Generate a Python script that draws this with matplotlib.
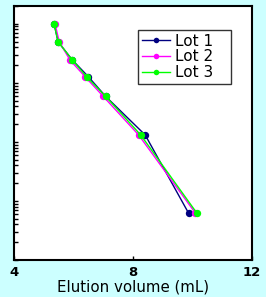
import matplotlib
matplotlib.use("Agg")
import matplotlib.pyplot as plt
import matplotlib.ticker as mticker

# Elution volume (mL) and molecular weight for each lot
lot1_x = [5.35, 5.48, 5.96, 6.50, 7.08, 8.41, 9.87]
lot2_x = [5.38, 5.52, 5.88, 6.39, 7.00, 8.19, 10.10]
lot3_x = [5.35, 5.48, 5.96, 6.44, 7.08, 8.26, 10.15]
mw = [990000, 498000, 244000, 127000, 59000, 13100, 620]

labels = ['Lot 1', 'Lot 2', 'Lot 3']
colors = ['#000080', '#FF00FF', '#00FF00']
xticks = [4, 8, 12]

bg = '#CCFFFF'

fig = plt.figure(figsize=(2.66, 2.97), dpi=100, facecolor=bg)
ax = fig.add_axes([0.0526, 0.1246, 0.8947, 0.8552])
ax.set_facecolor('white')

for xs, lab, c in zip([lot1_x, lot2_x, lot3_x], labels, colors):
    ax.plot(xs, mw, color=c, lw=1.0, marker='o', markersize=5.3,
            markeredgewidth=0, label=lab)

ax.set_yscale('log')
ax.set_xlim(4, 12)
ax.set_ylim(100, 2e6)

ax.set_xticks(xticks)
ax.set_xticklabels([str(t) for t in xticks], fontsize=9.5, fontweight='bold')
ax.tick_params(axis='x', direction='in', length=3, width=1, pad=4)

ax.yaxis.set_major_locator(mticker.LogLocator(base=10, subs=[1.0]))
ax.yaxis.set_minor_locator(mticker.LogLocator(base=10, subs=range(2, 10), numticks=20))
ax.yaxis.set_major_formatter(mticker.NullFormatter())
ax.yaxis.set_minor_formatter(mticker.NullFormatter())
ax.tick_params(axis='y', which='both', direction='in', length=3, width=1, labelleft=False)

for s in ax.spines.values():
    s.set_linewidth(1.5)

ax.set_xlabel('Elution volume (mL)', fontsize=10.8, labelpad=1)

leg = ax.legend(loc='upper left', bbox_to_anchor=(0.521, 0.906, 0.391, 0.0),
                mode='expand', fontsize=11, markerscale=0.75,
                frameon=True, fancybox=False, edgecolor='black',
                borderpad=0.25, labelspacing=0.05, handlelength=1.83,
                handletextpad=0.33, borderaxespad=0)
leg.get_frame().set_linewidth(1.0)

fig.savefig('out.png', dpi=100, facecolor=bg)
